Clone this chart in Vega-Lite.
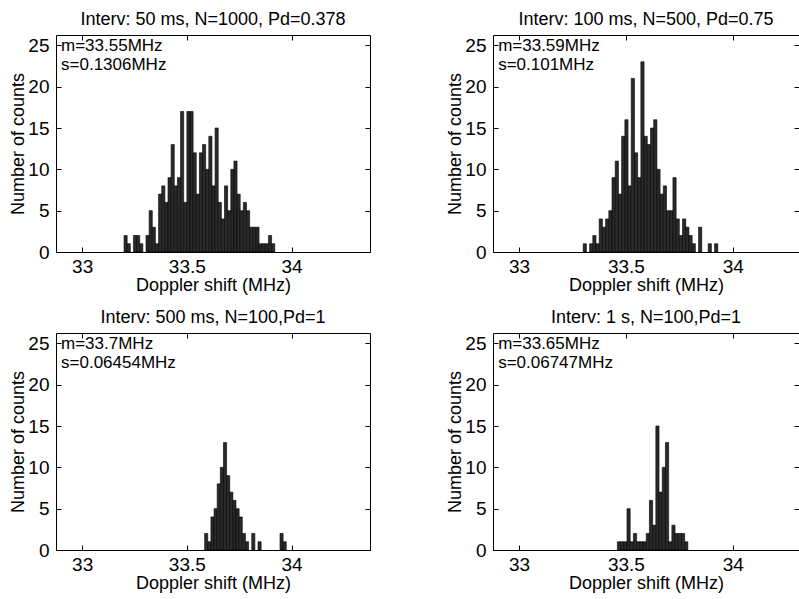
{
  "$schema": "https://vega.github.io/schema/vega-lite/v6.json",
  "background": "white",
  "padding": {"left": 9, "top": 10, "right": 0, "bottom": 0},
  "bounds": "flush",
  "columns": 2,
  "spacing": {"row": 81, "column": 123},
  "config": {
    "font": "Liberation Sans",
    "view": {"stroke": "black", "strokeWidth": 1},
    "axis": {
      "domain": false, "grid": false,
      "labelFont": "Liberation Sans", "labelFontSize": 19, "labelColor": "black",
      "titleFont": "Liberation Sans", "titleFontSize": 18, "titleFontWeight": "normal", "titleColor": "black",
      "tickColor": "black", "tickSize": -5, "tickWidth": 1, "labelPadding": 12, "titlePadding": 0
    },
    "axisX": {"labelPadding": 10},
    "title": {"font": "Liberation Sans", "fontSize": 18, "fontWeight": "normal", "color": "black", "offset": 6}
  },
  "datasets": {
    "p1": [
      {"x0": 33.200, "x1": 33.215, "n": 2}, {"x0": 33.215, "x1": 33.230, "n": 1},
      {"x0": 33.245, "x1": 33.260, "n": 2}, {"x0": 33.260, "x1": 33.275, "n": 2},
      {"x0": 33.275, "x1": 33.290, "n": 1}, {"x0": 33.305, "x1": 33.320, "n": 2},
      {"x0": 33.320, "x1": 33.335, "n": 5}, {"x0": 33.335, "x1": 33.350, "n": 3},
      {"x0": 33.350, "x1": 33.365, "n": 1}, {"x0": 33.365, "x1": 33.380, "n": 7},
      {"x0": 33.380, "x1": 33.395, "n": 8}, {"x0": 33.395, "x1": 33.410, "n": 6},
      {"x0": 33.410, "x1": 33.425, "n": 9}, {"x0": 33.425, "x1": 33.440, "n": 13},
      {"x0": 33.440, "x1": 33.455, "n": 8}, {"x0": 33.455, "x1": 33.470, "n": 9},
      {"x0": 33.470, "x1": 33.485, "n": 17}, {"x0": 33.485, "x1": 33.500, "n": 6},
      {"x0": 33.500, "x1": 33.515, "n": 17}, {"x0": 33.515, "x1": 33.530, "n": 17},
      {"x0": 33.530, "x1": 33.545, "n": 12}, {"x0": 33.545, "x1": 33.560, "n": 7},
      {"x0": 33.560, "x1": 33.575, "n": 12}, {"x0": 33.575, "x1": 33.590, "n": 13},
      {"x0": 33.590, "x1": 33.605, "n": 10}, {"x0": 33.605, "x1": 33.620, "n": 14},
      {"x0": 33.620, "x1": 33.635, "n": 8}, {"x0": 33.635, "x1": 33.650, "n": 15},
      {"x0": 33.650, "x1": 33.665, "n": 6}, {"x0": 33.665, "x1": 33.680, "n": 4},
      {"x0": 33.680, "x1": 33.695, "n": 8}, {"x0": 33.695, "x1": 33.710, "n": 5},
      {"x0": 33.710, "x1": 33.725, "n": 10}, {"x0": 33.725, "x1": 33.740, "n": 11},
      {"x0": 33.740, "x1": 33.755, "n": 7}, {"x0": 33.755, "x1": 33.770, "n": 5},
      {"x0": 33.770, "x1": 33.785, "n": 6}, {"x0": 33.785, "x1": 33.800, "n": 5},
      {"x0": 33.800, "x1": 33.815, "n": 3}, {"x0": 33.815, "x1": 33.830, "n": 3},
      {"x0": 33.830, "x1": 33.845, "n": 3}, {"x0": 33.845, "x1": 33.860, "n": 1},
      {"x0": 33.860, "x1": 33.875, "n": 1}, {"x0": 33.875, "x1": 33.890, "n": 1},
      {"x0": 33.890, "x1": 33.905, "n": 2}, {"x0": 33.905, "x1": 33.920, "n": 1}
    ],
    "p2": [
      {"x0": 33.300, "x1": 33.315, "n": 1}, {"x0": 33.330, "x1": 33.345, "n": 1},
      {"x0": 33.345, "x1": 33.360, "n": 2}, {"x0": 33.360, "x1": 33.375, "n": 1},
      {"x0": 33.375, "x1": 33.390, "n": 4}, {"x0": 33.390, "x1": 33.405, "n": 3},
      {"x0": 33.405, "x1": 33.420, "n": 4}, {"x0": 33.420, "x1": 33.435, "n": 5},
      {"x0": 33.435, "x1": 33.450, "n": 9}, {"x0": 33.450, "x1": 33.465, "n": 11},
      {"x0": 33.465, "x1": 33.480, "n": 7}, {"x0": 33.480, "x1": 33.495, "n": 14},
      {"x0": 33.495, "x1": 33.510, "n": 16}, {"x0": 33.510, "x1": 33.525, "n": 8},
      {"x0": 33.525, "x1": 33.540, "n": 21}, {"x0": 33.540, "x1": 33.555, "n": 12},
      {"x0": 33.555, "x1": 33.570, "n": 9}, {"x0": 33.570, "x1": 33.585, "n": 23},
      {"x0": 33.585, "x1": 33.600, "n": 14}, {"x0": 33.600, "x1": 33.615, "n": 13},
      {"x0": 33.615, "x1": 33.630, "n": 15}, {"x0": 33.630, "x1": 33.645, "n": 16},
      {"x0": 33.645, "x1": 33.660, "n": 10}, {"x0": 33.660, "x1": 33.675, "n": 7},
      {"x0": 33.675, "x1": 33.690, "n": 8}, {"x0": 33.690, "x1": 33.705, "n": 5},
      {"x0": 33.705, "x1": 33.720, "n": 5}, {"x0": 33.720, "x1": 33.735, "n": 9},
      {"x0": 33.735, "x1": 33.750, "n": 4}, {"x0": 33.750, "x1": 33.765, "n": 2},
      {"x0": 33.765, "x1": 33.780, "n": 4}, {"x0": 33.780, "x1": 33.795, "n": 3},
      {"x0": 33.795, "x1": 33.810, "n": 2}, {"x0": 33.810, "x1": 33.825, "n": 1},
      {"x0": 33.840, "x1": 33.855, "n": 3}, {"x0": 33.885, "x1": 33.900, "n": 1},
      {"x0": 33.915, "x1": 33.930, "n": 1}
    ],
    "p3": [
      {"x0": 33.585, "x1": 33.600, "n": 2}, {"x0": 33.600, "x1": 33.615, "n": 1},
      {"x0": 33.615, "x1": 33.630, "n": 4}, {"x0": 33.630, "x1": 33.645, "n": 5},
      {"x0": 33.645, "x1": 33.660, "n": 8}, {"x0": 33.660, "x1": 33.675, "n": 10},
      {"x0": 33.675, "x1": 33.690, "n": 13}, {"x0": 33.690, "x1": 33.705, "n": 9},
      {"x0": 33.705, "x1": 33.720, "n": 7}, {"x0": 33.720, "x1": 33.735, "n": 6},
      {"x0": 33.735, "x1": 33.750, "n": 5}, {"x0": 33.750, "x1": 33.765, "n": 4},
      {"x0": 33.765, "x1": 33.780, "n": 2}, {"x0": 33.780, "x1": 33.795, "n": 1},
      {"x0": 33.810, "x1": 33.825, "n": 2}, {"x0": 33.840, "x1": 33.855, "n": 1},
      {"x0": 33.945, "x1": 33.960, "n": 2}, {"x0": 33.960, "x1": 33.975, "n": 1}
    ],
    "p4": [
      {"x0": 33.460, "x1": 33.475, "n": 1}, {"x0": 33.475, "x1": 33.490, "n": 1},
      {"x0": 33.490, "x1": 33.505, "n": 1}, {"x0": 33.505, "x1": 33.520, "n": 5},
      {"x0": 33.520, "x1": 33.535, "n": 1}, {"x0": 33.535, "x1": 33.550, "n": 2},
      {"x0": 33.550, "x1": 33.565, "n": 1}, {"x0": 33.565, "x1": 33.580, "n": 1},
      {"x0": 33.580, "x1": 33.595, "n": 1}, {"x0": 33.595, "x1": 33.610, "n": 2},
      {"x0": 33.610, "x1": 33.625, "n": 6}, {"x0": 33.625, "x1": 33.640, "n": 3},
      {"x0": 33.640, "x1": 33.655, "n": 15}, {"x0": 33.655, "x1": 33.670, "n": 7},
      {"x0": 33.670, "x1": 33.685, "n": 10}, {"x0": 33.685, "x1": 33.700, "n": 13},
      {"x0": 33.700, "x1": 33.715, "n": 1}, {"x0": 33.715, "x1": 33.730, "n": 3},
      {"x0": 33.730, "x1": 33.745, "n": 2}, {"x0": 33.745, "x1": 33.760, "n": 2},
      {"x0": 33.760, "x1": 33.775, "n": 2}, {"x0": 33.775, "x1": 33.790, "n": 1}
    ],
    "stats": [
      {"panel": "p1", "label": "m=33.55MHz\ns=0.1306MHz"},
      {"panel": "p2", "label": "m=33.59MHz\ns=0.101MHz"},
      {"panel": "p3", "label": "m=33.7MHz\ns=0.06454MHz"},
      {"panel": "p4", "label": "m=33.65MHz\ns=0.06747MHz"}
    ]
  },
  "concat": [
    {
      "title": "Interv: 50 ms, N=1000, Pd=0.378",
      "width": 314, "height": 217,
      "layer": [
        {
          "data": {"name": "p1"},
          "mark": {"type": "bar", "fill": "#2a2a2a", "stroke": "black", "strokeWidth": 0.6},
          "encoding": {
            "x": {"field": "x0", "type": "quantitative", "scale": {"domain": [32.875, 34.375], "nice": false, "zero": false},
                  "axis": {"orient": "bottom", "values": [33, 33.5, 34], "format": "~g", "title": "Doppler shift (MHz)"}},
            "x2": {"field": "x1"},
            "y": {"field": "n", "type": "quantitative", "scale": {"domain": [0, 26.25], "nice": false},
                  "axis": {"orient": "left", "values": [0, 5, 10, 15, 20, 25], "title": "Number of counts"}},
            "y2": {"datum": 0}
          }
        },
        {
          "data": {"name": "p1"},
          "mark": {"type": "bar", "opacity": 0},
          "encoding": {
            "x": {"field": "x0", "type": "quantitative", "axis": {"orient": "top", "values": [33, 33.5, 34], "labels": false, "title": null}},
            "x2": {"field": "x1"},
            "y": {"field": "n", "type": "quantitative", "axis": {"orient": "right", "values": [0, 5, 10, 15, 20, 25], "labels": false, "title": null}},
            "y2": {"datum": 0}
          }
        },
        {
          "data": {"name": "stats"},
          "transform": [{"filter": "datum.panel === 'p1'"}],
          "mark": {"type": "text", "align": "left", "baseline": "top", "fontSize": 17, "lineHeight": 18.5, "lineBreak": "\n", "color": "black"},
          "encoding": {"x": {"datum": 32.899, "type": "quantitative", "axis": null}, "y": {"datum": 25.85, "type": "quantitative", "axis": null}, "text": {"field": "label"}}
        }
      ]
    },
    {
      "title": "Interv: 100 ms, N=500, Pd=0.75",
      "width": 306, "height": 217,
      "layer": [
        {
          "data": {"name": "p2"},
          "mark": {"type": "bar", "fill": "#2a2a2a", "stroke": "black", "strokeWidth": 0.6},
          "encoding": {
            "x": {"field": "x0", "type": "quantitative", "scale": {"domain": [32.878, 34.31], "nice": false, "zero": false},
                  "axis": {"orient": "bottom", "values": [33, 33.5, 34], "format": "~g", "title": "Doppler shift (MHz)"}},
            "x2": {"field": "x1"},
            "y": {"field": "n", "type": "quantitative", "scale": {"domain": [0, 26.25], "nice": false},
                  "axis": {"orient": "left", "values": [0, 5, 10, 15, 20, 25], "title": "Number of counts"}},
            "y2": {"datum": 0}
          }
        },
        {
          "data": {"name": "p2"},
          "mark": {"type": "bar", "opacity": 0},
          "encoding": {
            "x": {"field": "x0", "type": "quantitative", "axis": {"orient": "top", "values": [33, 33.5, 34], "labels": false, "title": null}},
            "x2": {"field": "x1"},
            "y": {"field": "n", "type": "quantitative", "axis": {"orient": "right", "values": [0, 5, 10, 15, 20, 25], "labels": false, "title": null}},
            "y2": {"datum": 0}
          }
        },
        {
          "data": {"name": "stats"},
          "transform": [{"filter": "datum.panel === 'p2'"}],
          "mark": {"type": "text", "align": "left", "baseline": "top", "fontSize": 17, "lineHeight": 18.5, "lineBreak": "\n", "color": "black"},
          "encoding": {"x": {"datum": 32.902, "type": "quantitative", "axis": null}, "y": {"datum": 25.85, "type": "quantitative", "axis": null}, "text": {"field": "label"}}
        }
      ]
    },
    {
      "title": "Interv: 500 ms, N=100,Pd=1",
      "width": 314, "height": 217,
      "layer": [
        {
          "data": {"name": "p3"},
          "mark": {"type": "bar", "fill": "#2a2a2a", "stroke": "black", "strokeWidth": 0.6},
          "encoding": {
            "x": {"field": "x0", "type": "quantitative", "scale": {"domain": [32.875, 34.375], "nice": false, "zero": false},
                  "axis": {"orient": "bottom", "values": [33, 33.5, 34], "format": "~g", "title": "Doppler shift (MHz)"}},
            "x2": {"field": "x1"},
            "y": {"field": "n", "type": "quantitative", "scale": {"domain": [0, 26.25], "nice": false},
                  "axis": {"orient": "left", "values": [0, 5, 10, 15, 20, 25], "title": "Number of counts"}},
            "y2": {"datum": 0}
          }
        },
        {
          "data": {"name": "p3"},
          "mark": {"type": "bar", "opacity": 0},
          "encoding": {
            "x": {"field": "x0", "type": "quantitative", "axis": {"orient": "top", "values": [33, 33.5, 34], "labels": false, "title": null}},
            "x2": {"field": "x1"},
            "y": {"field": "n", "type": "quantitative", "axis": {"orient": "right", "values": [0, 5, 10, 15, 20, 25], "labels": false, "title": null}},
            "y2": {"datum": 0}
          }
        },
        {
          "data": {"name": "stats"},
          "transform": [{"filter": "datum.panel === 'p3'"}],
          "mark": {"type": "text", "align": "left", "baseline": "top", "fontSize": 17, "lineHeight": 18.5, "lineBreak": "\n", "color": "black"},
          "encoding": {"x": {"datum": 32.899, "type": "quantitative", "axis": null}, "y": {"datum": 25.85, "type": "quantitative", "axis": null}, "text": {"field": "label"}}
        }
      ]
    },
    {
      "title": "Interv: 1 s, N=100,Pd=1",
      "width": 306, "height": 217,
      "layer": [
        {
          "data": {"name": "p4"},
          "mark": {"type": "bar", "fill": "#2a2a2a", "stroke": "black", "strokeWidth": 0.6},
          "encoding": {
            "x": {"field": "x0", "type": "quantitative", "scale": {"domain": [32.878, 34.31], "nice": false, "zero": false},
                  "axis": {"orient": "bottom", "values": [33, 33.5, 34], "format": "~g", "title": "Doppler shift (MHz)"}},
            "x2": {"field": "x1"},
            "y": {"field": "n", "type": "quantitative", "scale": {"domain": [0, 26.25], "nice": false},
                  "axis": {"orient": "left", "values": [0, 5, 10, 15, 20, 25], "title": "Number of counts"}},
            "y2": {"datum": 0}
          }
        },
        {
          "data": {"name": "p4"},
          "mark": {"type": "bar", "opacity": 0},
          "encoding": {
            "x": {"field": "x0", "type": "quantitative", "axis": {"orient": "top", "values": [33, 33.5, 34], "labels": false, "title": null}},
            "x2": {"field": "x1"},
            "y": {"field": "n", "type": "quantitative", "axis": {"orient": "right", "values": [0, 5, 10, 15, 20, 25], "labels": false, "title": null}},
            "y2": {"datum": 0}
          }
        },
        {
          "data": {"name": "stats"},
          "transform": [{"filter": "datum.panel === 'p4'"}],
          "mark": {"type": "text", "align": "left", "baseline": "top", "fontSize": 17, "lineHeight": 18.5, "lineBreak": "\n", "color": "black"},
          "encoding": {"x": {"datum": 32.902, "type": "quantitative", "axis": null}, "y": {"datum": 25.85, "type": "quantitative", "axis": null}, "text": {"field": "label"}}
        }
      ]
    }
  ]
}
